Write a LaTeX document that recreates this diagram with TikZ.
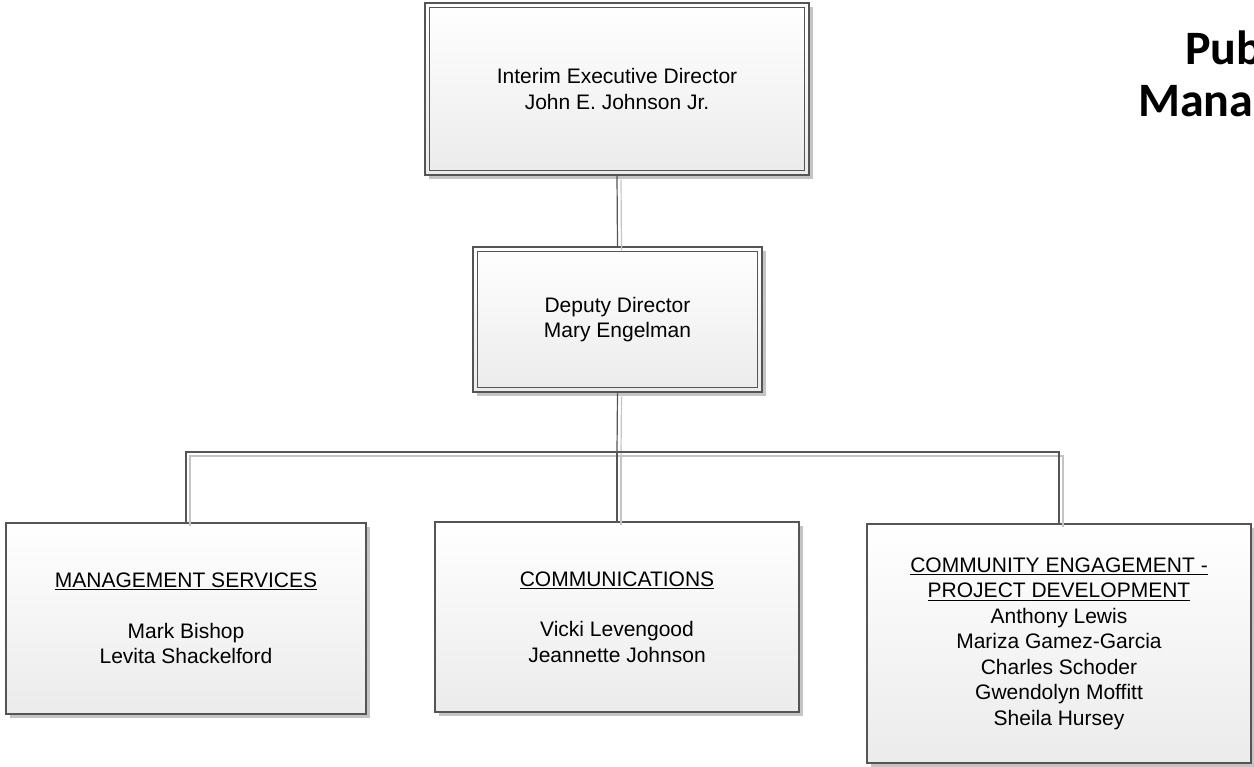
\documentclass[tikz,border=0pt]{standalone}
\usepackage{fontspec}
\setmainfont{Liberation Sans}
\newfontfamily\titlefont{Carlito}
\usetikzlibrary{shadows}

\definecolor{linegray}{HTML}{555555}
\definecolor{shadegray}{HTML}{C4C4C4}
\definecolor{fillgray}{HTML}{EBEBEB}

\tikzset{
  orgbox/.style={draw=linegray, line width=0.9pt, top color=white, bottom color=fillgray,
    align=center, inner sep=0pt,
    font=\fontsize{15.75pt}{19.1pt}\selectfont,
    drop shadow={shadow xshift=3pt, shadow yshift=-3pt, fill=shadegray, opacity=1}},
  innerline/.style={draw=linegray, line width=0.9pt},
  link/.style={draw=linegray, line width=0.9pt},
  linkshade/.style={draw=shadegray, line width=0.9pt, transform canvas={xshift=3pt, yshift=-3pt}},
  titletext/.style={font=\titlefont\bfseries\fontsize{36pt}{40pt}\selectfont, anchor=base west, inner sep=0pt}
}

\begin{document}
\begin{tikzpicture}[x=0.75pt, y=-0.75pt]
\useasboundingbox (0,0) rectangle (1254,767);

\node[titletext] (title1) at (1185,65) {Pub};
\node[titletext] (title2) at (1138,117) {Manag};

\node[orgbox, minimum width=288pt, minimum height=129pt] (exec) at (617,89)
  {Interim Executive Director\\John E. Johnson Jr.};
\node[orgbox, minimum width=216.75pt, minimum height=108.75pt] (deputy) at (617.5,319.5)
  {Deputy Director\\Mary Engelman};
\node[orgbox, minimum width=270pt, minimum height=143.25pt] (mgmt) at (186,618.5)
  {\underline{MANAGEMENT SERVICES}\\[19.1pt]Mark Bishop\\Levita Shackelford};
\node[orgbox, minimum width=273pt, minimum height=142.5pt] (comm) at (617,617)
  {\underline{COMMUNICATIONS}\\[19.1pt]Vicki Levengood\\Jeannette Johnson};
\node[orgbox, minimum width=288pt, minimum height=179.25pt] (engage) at (1059,643.5)
  {\underline{COMMUNITY ENGAGEMENT -}\\\underline{PROJECT DEVELOPMENT}\\Anthony Lewis\\Mariza Gamez-Garcia\\Charles Schoder\\Gwendolyn Moffitt\\Sheila Hursey};

% inner frames of the two top boxes
\draw[innerline] ([xshift=3.75pt, yshift=-3.75pt]exec.north west) rectangle ([xshift=-3.75pt, yshift=3.75pt]exec.south east);
\draw[innerline] ([xshift=3.75pt, yshift=-3.75pt]deputy.north west) rectangle ([xshift=-3.75pt, yshift=3.75pt]deputy.south east);

\coordinate (bus) at (617,452);

\draw[linkshade] (exec.south) -- (deputy.north);
\draw[linkshade] (deputy.south) -- (bus);
\draw[linkshade] (bus) -| (mgmt.north);
\draw[linkshade] (bus) -- (comm.north);
\draw[linkshade] (bus) -| (engage.north);

\draw[link] (exec.south) -- (deputy.north);
\draw[link] (deputy.south) -- (bus);
\draw[link] (bus) -| (mgmt.north);
\draw[link] (bus) -- (comm.north);
\draw[link] (bus) -| (engage.north);
\end{tikzpicture}
\end{document}
